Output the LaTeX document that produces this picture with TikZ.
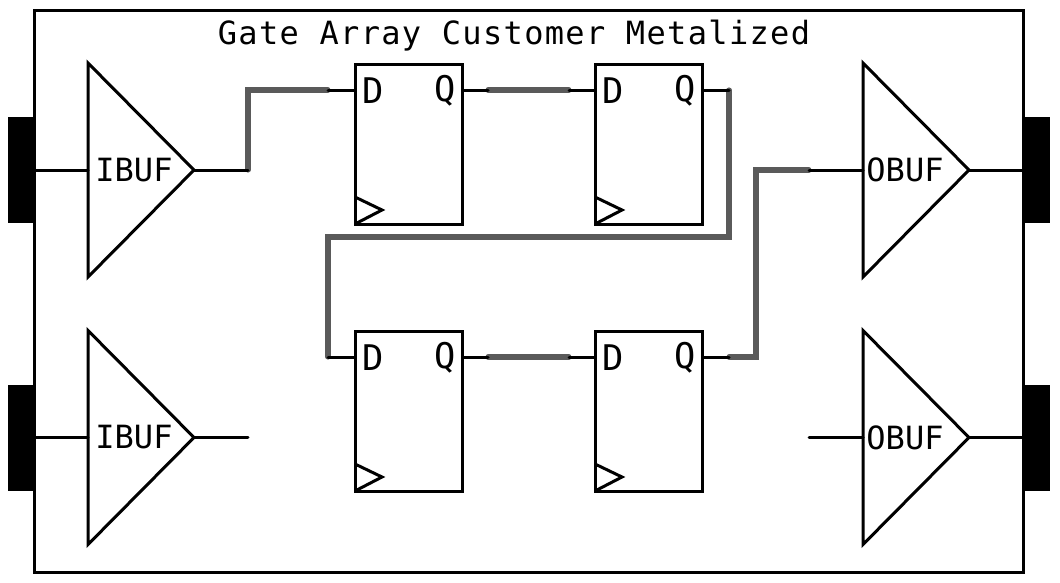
\documentclass[tikz,border=0pt]{standalone}
\usepackage{fontspec}
\setmainfont{DejaVu Sans Mono}
\newfontfamily\titlefont[LetterSpace=4.2]{DejaVu Sans Mono}
\definecolor{routegrey}{HTML}{5A5A5A}
\newcommand\bufferbody[1]{%
    \draw[ln] (-53,-107) -- (53,0) -- (-53,107) -- cycle;
    \coordinate (-in) at (-53,0);
    \coordinate (-out) at (53,0);
    \node[lbl,anchor=center] (-label) at (#1,0) {\tikzpictext};
}
\tikzset{
  x=0.75pt,y=-0.75pt,
  ln/.style={draw=black,line width=2.25pt,line join=miter},
  thin wire/.style={black,line width=2.25pt,line cap=round},
  route/.style={draw=routegrey,line width=3.8pt,line join=miter,line cap=round},
  lbl/.style={inner sep=0pt,font=\fontsize{24pt}{24pt}\selectfont},
  pinlbl/.style={inner sep=0pt,font=\fontsize{26.5pt}{26.5pt}\selectfont},
  pad/.style={fill=black,draw=none,minimum width=20.25pt,minimum height=79.5pt,inner sep=0pt,outer sep=0pt},
  inbuffer/.pic={\bufferbody{-7}},
  outbuffer/.pic={\bufferbody{-11}},
  dff/.pic={
    \draw[ln] (-54,-80) rectangle (53.5,80);
    \draw[ln] (-54,53) -- (-27,66) -- (-54,80);
    \coordinate (-d) at (-54,-54);
    \coordinate (-q) at (53.5,-54);
    \node[pinlbl,anchor=center] (-D) at (-36,-53) {D};
    \node[pinlbl,anchor=center] (-Q) at (36,-53) {Q};
  }
}
\begin{document}
\begin{tikzpicture}
\useasboundingbox (0,0) rectangle (1060,582);
\fill[white] (0,0) rectangle (1060,582);
% pads
\node[pad] (padA) at (21.5,170) {};
\node[pad] (padB) at (21.5,437.5) {};
\node[pad] (padC) at (1036.5,170) {};
\node[pad] (padD) at (1036.5,437.5) {};
% frame
\draw[ln] (34.5,10) rectangle (1023.5,572);
% title
\node[inner sep=0pt,font=\titlefont\fontsize{24pt}{24pt}\selectfont] (title) at (514,36) {Gate Array Customer Metalized};
% buffers
\pic[pic text=IBUF] (ib1) at (141,170) {inbuffer};
\pic[pic text=IBUF] (ib2) at (141,437.5) {inbuffer};
\pic[pic text=OBUF] (ob1) at (916,170) {outbuffer};
\pic[pic text=OBUF] (ob2) at (916,437.5) {outbuffer};
% flip flops
\pic (ff1) at (409,144) {dff};
\pic (ff2) at (649,144) {dff};
\pic (ff3) at (409,411) {dff};
\pic (ff4) at (649,411) {dff};
% routing coordinates
\coordinate (a1) at (248,170);
\coordinate (a2) at (328,90);
\coordinate (b1) at (488,90);
\coordinate (b2) at (569,90);
\coordinate (c1) at (729,90);
\coordinate (c2) at (328,357);
\coordinate (d1) at (488,357);
\coordinate (d2) at (569,357);
\coordinate (e1) at (729,357);
\coordinate (e2) at (809,170);
\coordinate (f1) at (248,437.5);
\coordinate (f2) at (809,437.5);
% grey routes
\draw[route] (a1) |- (a2);
\draw[route] (b1) -- (b2);
\draw[route] (c1) |- (328,237) -- (c2);
\draw[route] (d1) -- (d2);
\draw[route] (e1) -- (756,357) |- (e2);
% thin wires
\draw[thin wire] (35,170) -- (ib1-in);
\draw[thin wire] (35,437.5) -- (ib2-in);
\draw[thin wire] (ib1-out) -- (a1);
\draw[thin wire] (ib2-out) -- (f1);
\draw[thin wire] (a2) -- (ff1-d);
\draw[thin wire] (ff1-q) -- (b1);
\draw[thin wire] (b2) -- (ff2-d);
\draw[thin wire] (ff2-q) -- (c1);
\draw[thin wire] (c2) -- (ff3-d);
\draw[thin wire] (ff3-q) -- (d1);
\draw[thin wire] (d2) -- (ff4-d);
\draw[thin wire] (ff4-q) -- (e1);
\draw[thin wire] (e2) -- (ob1-in);
\draw[thin wire] (f2) -- (ob2-in);
\draw[thin wire] (ob1-out) -- (1024,170);
\draw[thin wire] (ob2-out) -- (1024,437.5);
\end{tikzpicture}
\end{document}
